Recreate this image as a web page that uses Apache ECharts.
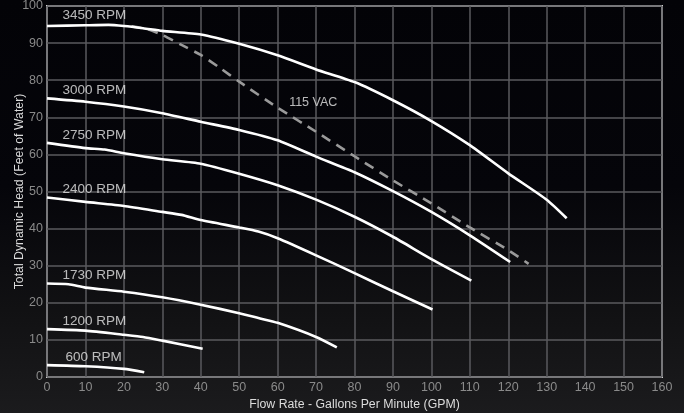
<!DOCTYPE html>
<html><head><meta charset="utf-8">
<script src="https://cdn.jsdelivr.net/npm/echarts@6/dist/echarts.min.js"></script>
<style>html,body{margin:0;padding:0;background:#000}#c{width:684px;height:413px}</style>
</head><body><div id="c"></div>
<script>
const xTicks = [0,10,20,30,40,50,60,70,80,90,100,110,120,130,140,150,160];
const yTicks = [0,10,20,30,40,50,60,70,80,90,100];
const rpmNames = ['3450 RPM','3000 RPM','2750 RPM','2400 RPM','1730 RPM','1200 RPM','600 RPM'];
const rpm3450 = [[0,94.6],[10,94.8],[16,94.9],[20,94.6],[25,94],[30,93.3],[40,92.3],[50,89.8],[60,86.7],[70,82.9],[80,79.5],[90,74.6],[100,69],[110,62.5],[120,54.9],[130,47.8],[135.2,42.8]];
const rpm3000 = [[0,75.1],[10,74.2],[20,72.9],[30,71.1],[40,68.8],[50,66.6],[60,63.8],[70,59.4],[80,55.2],[90,50.1],[100,44.5],[110,38.2],[120.5,31]];
const rpm2750 = [[0,63.1],[10,61.7],[15,61.3],[20,60.3],[30,58.7],[40,57.5],[50,54.8],[60,51.7],[70,47.8],[80,43.2],[90,37.8],[100,31.8],[110.4,26]];
const rpm2400 = [[0,48.4],[10,47.2],[20,46.1],[30,44.5],[35,43.7],[40,42.3],[50,40.3],[55,39.2],[60,37.4],[70,32.8],[80,28],[90,23.1],[100.3,18.2]];
const rpm1730 = [[0,25.2],[5.6,25],[10,24.1],[20,23],[30,21.5],[40,19.5],[50,17.2],[55,15.9],[60,14.6],[70,10.8],[75.4,8]];
const rpm1200 = [[0,12.9],[10,12.5],[20,11.4],[25,10.8],[30,9.8],[40.5,7.6]];
const rpm600 = [[0,3.2],[10,2.9],[20,2.2],[25.3,1.3]];
const vac115 = [[22,94.5],[26,93.8],[30,92.2],[35,89.5],[40,86.8],[45,83.3],[50,79.6],[60,72.6],[70,66.1],[80,59.5],[90,53],[100,46.8],[110,40.3],[120,34.2],[125.3,30.5]];
const vacName = '115 VAC';
const vacLabelIndex = 7;

const curves = [rpm3450, rpm3000, rpm2750, rpm2400, rpm1730, rpm1200, rpm600];
const FONT = 'Liberation Sans, Arial, sans-serif';

const chart = echarts.init(document.getElementById('c'));
const lineSeries = curves.map((d, i) => ({
  type: 'line', name: rpmNames[i], data: d, showSymbol: false, smooth: 0.2,
  lineStyle: {color: '#ffffff', width: 2.6}, z: 3, silent: true
}));
const vacSeries = {
  type: 'line', name: vacName, data: vac115, showSymbol: false, smooth: 0.2,
  lineStyle: {color: '#9a9a9a', width: 2.6, type: [10, 7]}, z: 2, silent: true
};
const labelSeries = {
  type: 'scatter', symbolSize: 1, itemStyle: {color: 'transparent'}, silent: true, z: 5,
  data: curves.map((d, i) => ({
    value: d[0], name: rpmNames[i],
    label: {show: true, formatter: rpmNames[i], position: 'right', distance: i === 6 ? 18 : 15,
      offset: [0, i === 0 ? -11 : -8], color: '#e6e6e6', fontSize: 13.5, fontFamily: FONT}
  })).concat([{
    value: vac115[vacLabelIndex], name: vacName,
    label: {show: true, formatter: vacName, position: 'right', distance: 11, offset: [0, -5],
      color: '#e6e6e6', fontSize: 12.5, fontFamily: FONT}
  }])
};

chart.setOption({
  animation: false,
  backgroundColor: {
    type: 'linear', x: 0, y: 0, x2: 0, y2: 1,
    colorStops: [{offset: 0, color: '#030307'}, {offset: 0.45, color: '#05050a'}, {offset: 0.75, color: '#111113'}, {offset: 1, color: '#1b1b1d'}]
  },
  grid: {left: 47, right: 22, top: 6, bottom: 36, outerBoundsMode: 'none', containLabel: false,
    show: true, borderColor: '#d0d0d0', borderWidth: 2},
  xAxis: {
    type: 'value', min: 0, max: 160, interval: 10,
    name: 'Flow Rate - Gallons Per Minute (GPM)', nameLocation: 'middle', nameGap: 22, nameMoveOverlap: false,
    nameTextStyle: {color: '#dcdcdc', fontSize: 12.3, fontFamily: FONT},
    axisLine: {show: false}, axisTick: {show: false},
    axisLabel: {color: '#8a8a8a', fontSize: 12.5, margin: 4, fontFamily: FONT,
      formatter: v => xTicks.includes(v) ? String(v) : ''},
    splitLine: {show: true, lineStyle: {color: '#5a5a5e', width: 1.5}}
  },
  yAxis: {
    type: 'value', min: 0, max: 100, interval: 10,
    name: 'Total Dynamic Head (Feet of Water)', nameLocation: 'middle', nameGap: 21, nameMoveOverlap: false,
    nameTextStyle: {color: '#dcdcdc', fontSize: 12.3, fontFamily: FONT},
    axisLine: {show: false}, axisTick: {show: false},
    axisLabel: {color: '#8a8a8a', fontSize: 12.5, margin: 4, fontFamily: FONT,
      formatter: v => yTicks.includes(v) ? String(v) : ''},
    splitLine: {show: true, lineStyle: {color: '#5a5a5e', width: 1.5}}
  },
  series: lineSeries.concat([vacSeries, labelSeries])
});
</script></body></html>
